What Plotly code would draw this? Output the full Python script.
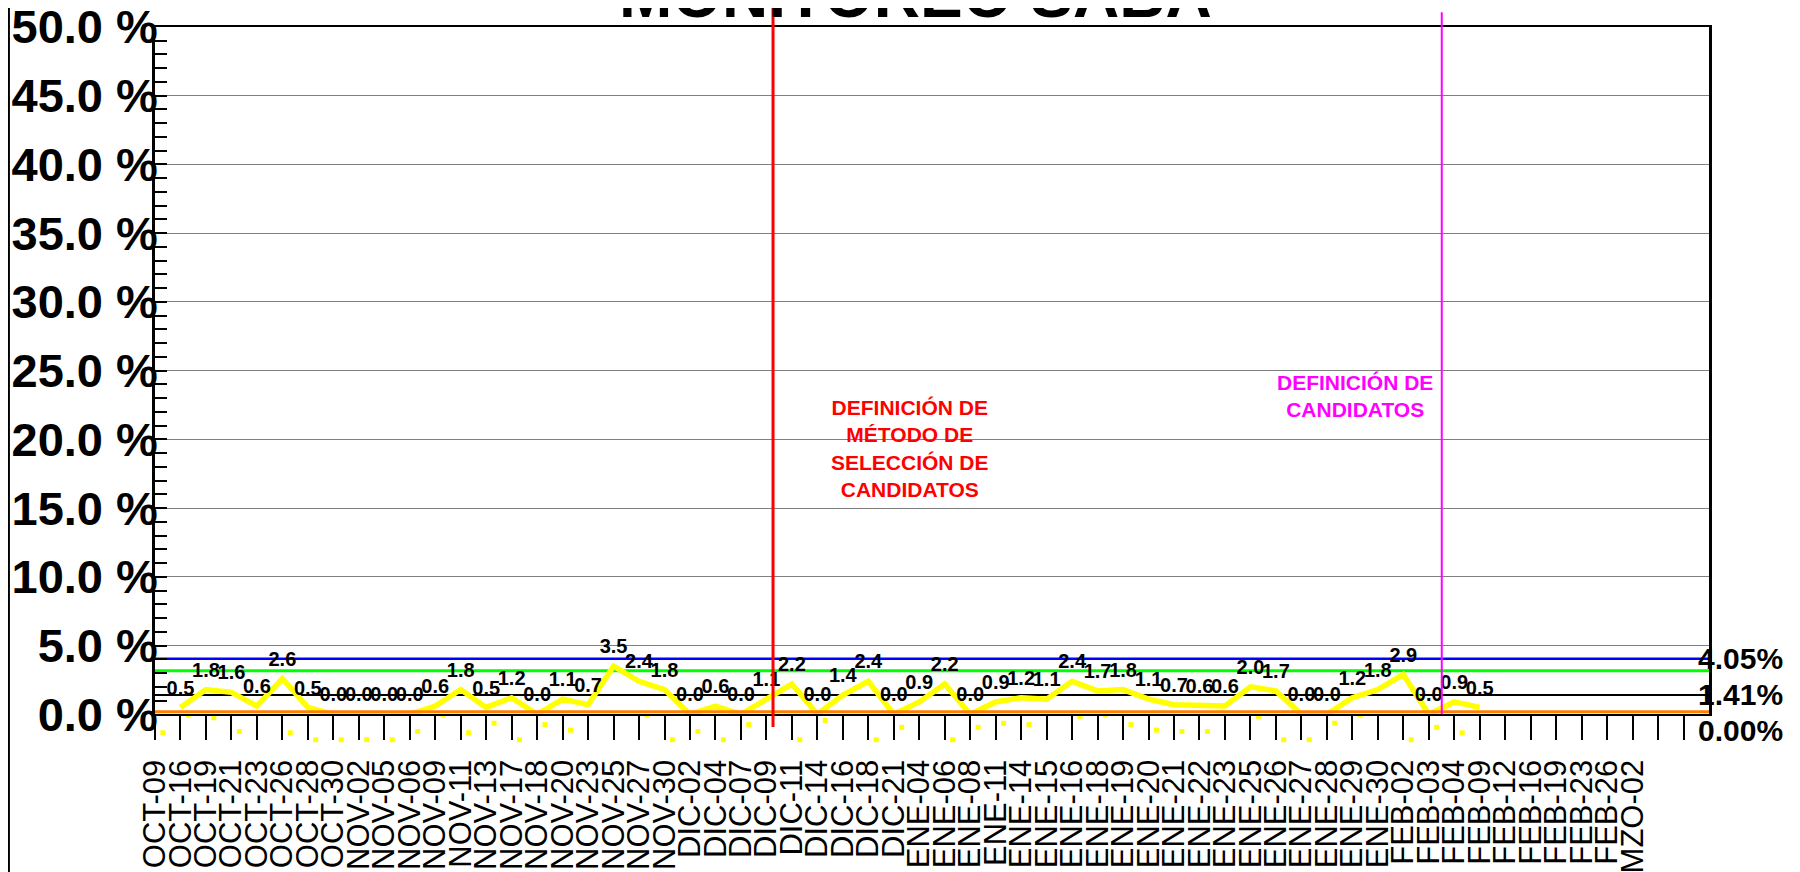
import plotly.graph_objects as go

# ---------------- data ----------------
fechas = ["OCT-09", "OCT-16", "OCT-19", "OCT-21", "OCT-23", "OCT-26", "OCT-28", "OCT-30",
          "NOV-02", "NOV-05", "NOV-06", "NOV-09", "NOV-11", "NOV-13", "NOV-17", "NOV-18",
          "NOV-20", "NOV-23", "NOV-25", "NOV-27", "NOV-30",
          "DIC-02", "DIC-04", "DIC-07", "DIC-09", "DIC-11", "DIC-14", "DIC-16", "DIC-18", "DIC-21",
          "ENE-04", "ENE-06", "ENE-08", "ENE-11", "ENE-14", "ENE-15", "ENE-16", "ENE-18", "ENE-19",
          "ENE-20", "ENE-21", "ENE-22", "ENE-23", "ENE-25", "ENE-26", "ENE-27", "ENE-28", "ENE-29",
          "ENE-30", "FEB-02", "FEB-03", "FEB-04", "FEB-09", "FEB-12", "FEB-16", "FEB-19", "FEB-23",
          "FEB-26", "MZO-02"]

porcentaje = [None,
              0.5, 1.8, 1.6, 0.6, 2.6, 0.5, 0.0, 0.0, 0.0, 0.0, 0.6, 1.8, 0.5, 1.2, 0.0, 1.1, 0.7,
              3.5, 2.4, 1.8, 0.0, 0.6, 0.0, 1.1, 2.2, 0.0, 1.4, 2.4, 0.0, 0.9, 2.2, 0.0, 0.9, 1.2,
              1.1, 2.4, 1.7, 1.8, 1.1, 0.7, 0.6, 0.6, 2.0, 1.7, 0.0, 0.0, 1.2, 1.8, 2.9, 0.0, 0.9,
              0.5,
              None, None, None, None, None, None]

espacios_vacios = 2          # empty category slots after the last date

lsc = 4.05                   # upper control limit
lsa = 3.17                   # warning limit (green)
media = 1.41                 # mean
lic = 0.00                   # lower control limit

y_max = 50

evento_metodo = "DIC-09"
evento_candidatos = "FEB-03"
texto_metodo = "DEFINICIÓN DE<br>MÉTODO DE<br>SELECCIÓN DE<br>CANDIDATOS"
texto_candidatos = "DEFINICIÓN DE<br>CANDIDATOS"
titulo = "MONITOREO SABA"

# ---------------- styles / layout ----------------
FONT = "Liberation Sans, Arial, sans-serif"
W, H = 1792, 864                             # page adds an 8 px body margin
M_L, M_R, M_T, M_B = 147, 91, 19, 127
PLOT_BOTTOM_PX = 706.3                       # figure row of the 0 % baseline
paper_h = H - M_T - M_B
d = (H - M_B - PLOT_BOTTOM_PX) / paper_h     # main y-domain start
y_lo = -y_max * d / (1 - d)                  # matching range for the full-height helper axis

sombra_dx = -0.69            # marker shadow offset (category units)
sombra_dy = -1.85            # marker shadow offset (percent units)

n_cat = len(fechas) + espacios_vacios
x_idx = [i for i, v in enumerate(porcentaje) if v is not None]
y_val = [v for v in porcentaje if v is not None]
etiquetas = [f"{v:.1f}" for v in y_val]

fig = go.Figure()

# marker shadow (helper full-height subplot, drawn underneath)
fig.add_trace(go.Scatter(
    x=[i + sombra_dx for i in x_idx], y=[v + sombra_dy for v in y_val],
    xaxis="x", yaxis="y",
    mode="markers", marker=dict(symbol="square", size=5, color="#FFFF00"),
    hoverinfo="skip", showlegend=False))

# control limit lines
for val, col, w in [(lsc, "#0000FF", 2.5), (lsa, "#00FF00", 3), (media, "#000000", 2)]:
    fig.add_trace(go.Scatter(x=[0, n_cat], y=[val, val], xaxis="x2", yaxis="y2",
                             mode="lines", line=dict(color=col, width=w),
                             hoverinfo="skip", showlegend=False))

# main series
fig.add_trace(go.Scatter(
    x=x_idx, y=y_val, xaxis="x2", yaxis="y2", mode="lines+markers+text",
    line=dict(color="#FFFF00", width=5.5),
    marker=dict(size=11, color="rgba(0,0,0,0)"),
    text=etiquetas, textposition="top center",
    textfont=dict(family=FONT, size=20, color="black", weight="bold"),
    cliponaxis=False, showlegend=False))

shapes = [dict(type="line", xref="x2 domain", x0=0, x1=1, yref="y2", ysizemode="pixel",
               yanchor=lic, y0=2.6, y1=2.6, line=dict(color="#FF7F00", width=3),
               layer="above")]

x_metodo = fechas.index(evento_metodo) + 0.26
x_cand = fechas.index(evento_candidatos) + 0.51
shapes.append(dict(type="line", xref="x2", x0=x_metodo, x1=x_metodo, yref="y2 domain",
                   y0=-0.0185, y1=1.0316, line=dict(color="#FF0000", width=3)))
shapes.append(dict(type="line", xref="x2", x0=x_cand, x1=x_cand, yref="y2 domain",
                   y0=0, y1=1.0214, line=dict(color="#FF00FF", width=2)))
# left figure border
shapes.append(dict(type="line", xref="x2 domain", x0=-0.0940, x1=-0.0940, yref="y2 domain",
                   y0=-0.24, y1=1.05, line=dict(color="#000000", width=2)))

annotations = [
    dict(text=titulo, xref="x2 domain", yref="y2 domain", x=0.4894, y=1.046, showarrow=False,
         xanchor="center", yanchor="middle",
         font=dict(family=FONT, size=64, color="black", weight="bold")),
    dict(text=texto_metodo, xref="x2", yref="y2", x=29.64, y=19.33, showarrow=False,
         xanchor="center", yanchor="middle",
         font=dict(family=FONT, size=21, color="#FF0000", weight="bold")),
    dict(text=texto_candidatos, xref="x2", yref="y2", x=47.09, y=23.17, showarrow=False,
         xanchor="center", yanchor="middle",
         font=dict(family=FONT, size=21, color="#FF00FF", weight="bold")),
]
for val, shift in [(lsc, 0), (media, 0), (lic, -16)]:
    annotations.append(dict(text=f"{val:.2f}%", xref="x2 domain", yref="y2", x=1, y=val,
                            xshift=-13, yshift=shift, xanchor="left", yanchor="middle",
                            showarrow=False,
                            font=dict(family=FONT, size=30, color="black", weight="bold")))

fig.update_layout(
    width=W, height=H,
    margin=dict(l=M_L, r=M_R, t=M_T, b=M_B, pad=0),
    paper_bgcolor="white", plot_bgcolor="white",
    font=dict(family=FONT, color="black"),
    shapes=shapes, annotations=annotations,
    xaxis=dict(domain=[0, 1], range=[0, n_cat], anchor="y", visible=False, automargin=False),
    yaxis=dict(domain=[0, 1], range=[y_lo, y_max], anchor="x", visible=False, automargin=False),
    xaxis2=dict(domain=[0, 1], anchor="y2", range=[0, n_cat], tickmode="array",
                tickvals=list(range(n_cat)),
                ticktext=fechas + [""] * espacios_vacios, tickangle=-90,
                ticks="outside", ticklen=24, tickwidth=2, tickcolor="black",
                showline=True, linecolor="black", linewidth=2, mirror=True,
                showgrid=False, zeroline=False, ticklabelstandoff=7, automargin=False,
                ticklabeloverflow="allow",
                tickfont=dict(family=FONT, size=31, color="black")),
    yaxis2=dict(domain=[d, 1], anchor="x2", range=[0, y_max], tick0=0, dtick=5,
                tickformat=".1f", ticksuffix=" %",
                ticks="inside", ticklen=12, tickwidth=2, tickcolor="black",
                showgrid=True, gridcolor="#808080", gridwidth=1.3,
                showline=True, linecolor="black", linewidth=2.5, mirror=True,
                zeroline=False, ticklabelstandoff=-15, automargin=False,
                ticklabeloverflow="allow",
                tickfont=dict(family=FONT, size=47, color="black", weight="bold"),
                minor=dict(dtick=1, ticks="inside", ticklen=12, tickwidth=2,
                           tickcolor="black", showgrid=False)),
)

fig.write_html("out.html")
